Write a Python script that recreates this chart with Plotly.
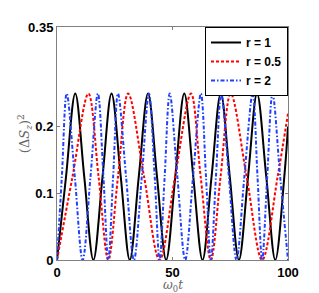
import plotly.graph_objects as go

# r = 1 (black, solid): troughs, half-height crossings and peaks
t_r1 = [0, 3.9, 7.9, 11.8, 15.75, 19.7, 23.6, 27.6, 31.5, 35.4, 39.4, 43.3, 47.25,
        51.2, 55.1, 59.0, 63.0, 66.9, 70.9, 74.8, 78.75, 82.7, 86.6, 90.6, 94.5, 98.4, 100]
y_r1 = [0, 0.125, 0.25, 0.125, 0, 0.125, 0.25, 0.125, 0, 0.125, 0.25, 0.125, 0,
        0.125, 0.25, 0.125, 0, 0.125, 0.25, 0.125, 0, 0.125, 0.25, 0.125, 0, 0.125, 0.2]

# r = 0.5 (red, dashed)
t_r05 = [0, 6.7, 13.6, 18.0, 22.2, 26.4, 30.8, 37.7, 44.4, 51.1, 58.0, 62.2, 66.6,
         70.8, 75.2, 82.1, 88.8, 95.5, 100]
y_r05 = [0, 0.125, 0.25, 0.125, 0, 0.125, 0.25, 0.125, 0, 0.125, 0.25, 0.125, 0,
         0.125, 0.25, 0.125, 0, 0.125, 0.22]

# r = 2 (blue, dash-dot)
t_r2 = [0, 2.1, 4.2, 7.7, 11.1, 14.5, 17.7, 20.1, 22.2, 24.3, 26.4, 29.9, 33.3,
        36.7, 39.8, 42.3, 44.4, 46.6, 48.8, 52.1, 55.5, 58.9, 62.3, 64.5, 66.6,
        68.8, 71.1, 74.4, 77.7, 81.1, 84.7, 86.8, 88.8, 91.0, 93.3, 96.6, 100]
y_r2 = [0, 0.125, 0.25, 0.125, 0, 0.125, 0.25, 0.125, 0, 0.125, 0.25, 0.125, 0,
        0.125, 0.25, 0.125, 0, 0.125, 0.25, 0.125, 0, 0.125, 0.25, 0.125, 0,
        0.125, 0.25, 0.125, 0, 0.125, 0.25, 0.125, 0, 0.125, 0.25, 0.125, 0]

x_ticks = [0, 50, 100]
y_ticks = [0, 0.1, 0.2, 0.35]
y_tick_text = ["0", "0.1", "0.2", "0.35"]

fig = go.Figure()
fig.add_trace(go.Scatter(x=t_r1, y=y_r1, mode="lines", name="r = 1",
                         line=dict(color="black", width=2, shape="spline", smoothing=1.0)))
fig.add_trace(go.Scatter(x=t_r05, y=y_r05, mode="lines", name="r = 0.5",
                         line=dict(color="#ff0000", width=2, dash="3px,2px",
                                   shape="spline", smoothing=1.0)))
fig.add_trace(go.Scatter(x=t_r2, y=y_r2, mode="lines", name="r = 2",
                         line=dict(color="#2040ff", width=2, dash="4px,2px,1.5px,2px",
                                   shape="spline", smoothing=1.0)))

axis_common = dict(showgrid=False, zeroline=False, showline=True, linecolor="#808080",
                   linewidth=1, mirror="ticks", ticks="inside", ticklen=3,
                   tickcolor="#808080")

fig.update_xaxes(range=[0, 100], tickvals=x_ticks, ticktext=[str(v) for v in x_ticks],
                 tickfont=dict(family="Liberation Sans", size=13, color="black", weight="bold"),
                 **axis_common)
fig.update_yaxes(range=[0, 0.35], tickvals=y_ticks, ticktext=y_tick_text,
                 tickfont=dict(family="Liberation Sans", size=13, color="black", weight="bold"),
                 **axis_common)

fig.add_annotation(text="(Δ<i>S</i><sub><i>z</i></sub>)<sup>2</sup>", xref="paper", yref="paper",
                   x=-0.1385, y=0.54, textangle=-90, showarrow=False,
                   xanchor="center", yanchor="middle",
                   font=dict(family="DejaVu Serif", size=13, color="#666666"))
fig.add_annotation(text="<i>ω</i><sub>0</sub><i>t</i>", xref="paper", yref="paper",
                   x=0.5, y=-0.11, showarrow=False, xanchor="center", yanchor="middle",
                   font=dict(family="DejaVu Serif", size=12, color="#666666"))

# the page body adds an 8px offset, so the figure is sized to fit inside the window
fig.update_layout(
    width=311, height=285,
    margin=dict(l=49, r=31, t=15, b=33),
    paper_bgcolor="white", plot_bgcolor="white",
    legend=dict(x=1, y=1, xanchor="right", yanchor="top", bgcolor="white",
                bordercolor="black", borderwidth=1, tracegroupgap=0,
                itemwidth=30,
                font=dict(family="Liberation Sans", size=12, color="black", weight="bold")),
)

fig.write_html("out.html")
